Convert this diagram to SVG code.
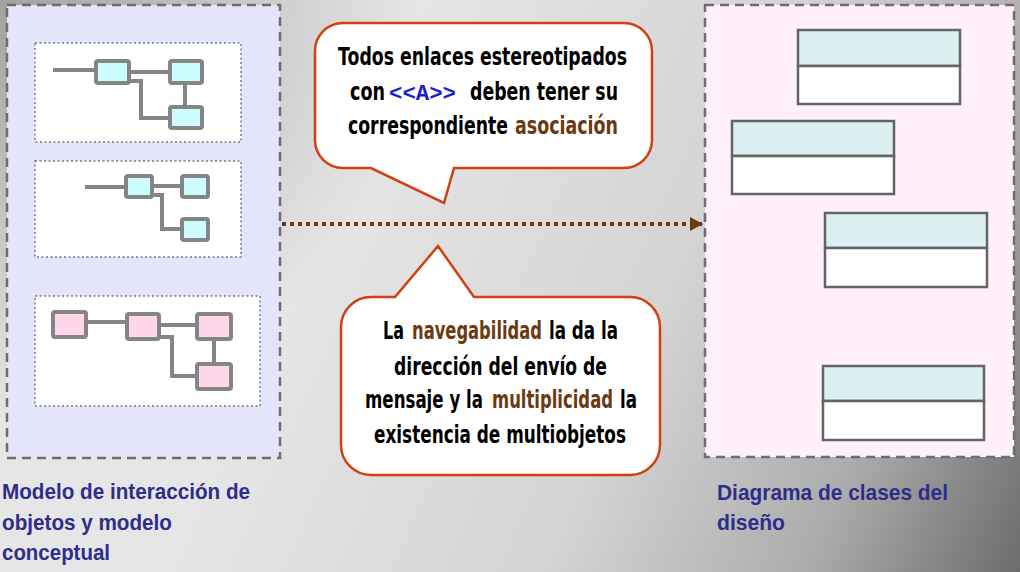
<svg xmlns="http://www.w3.org/2000/svg" width="1020" height="572" viewBox="0 0 1020 572">
<defs>
<linearGradient id="bg" gradientUnits="userSpaceOnUse" x1="300" y1="250" x2="1020" y2="572">
<stop offset="0" stop-color="#e6e6e6"/>
<stop offset="0.45" stop-color="#d4d4d4"/>
<stop offset="0.75" stop-color="#acacac"/>
<stop offset="1" stop-color="#6c6c6c"/>
</linearGradient>
<radialGradient id="tl" gradientUnits="userSpaceOnUse" cx="0" cy="0" r="420">
<stop offset="0" stop-color="#000" stop-opacity="0.3"/>
<stop offset="1" stop-color="#000" stop-opacity="0"/>
</radialGradient>
<marker id="ah" markerUnits="userSpaceOnUse" markerWidth="14" markerHeight="14" refX="13" refY="7" orient="auto">
<path d="M0,0 L13,7 L0,14 Z" fill="#6b3a10"/>
</marker>
<style>
.panel{stroke:#6e6e6e;stroke-width:2.5;stroke-dasharray:9,6}
.sub{fill:#fff;stroke:#7a7a7a;stroke-width:1.5;stroke-dasharray:2,2.5}
.ln{fill:none;stroke:#858585;stroke-width:4}
.ob{fill:#ccfeff;stroke:#858585;stroke-width:4}
.obp{fill:#ffd6ea;stroke:#858585;stroke-width:4}
.ct{fill:#dcf0f2;stroke:#646464;stroke-width:2.5}
.cb{fill:#fff;stroke:#646464;stroke-width:2.5}
.call{fill:#fff;stroke:#d04010;stroke-width:2.5}
.lbl{font-family:"Liberation Sans",sans-serif;font-weight:bold;font-size:22px;fill:#2e2e8a}
.ctx{font-family:"DejaVu Sans",sans-serif;font-weight:bold;font-size:24px;fill:#000}
.br{fill:#6b3a10}
.mono{font-family:"Liberation Mono",monospace;font-weight:bold;font-size:22px;fill:#1c1cd0}
</style>
</defs>
<rect width="1020" height="572" fill="url(#bg)"/>
<rect width="1020" height="572" fill="url(#tl)"/>

<g id="left-panel">
<rect x="7" y="5" width="273" height="453" fill="#e4e4fb" class="panel"/>
<g id="model1">
<rect x="35" y="43" width="206" height="99" class="sub"/>
<path class="ln" d="M53,70 H96 M129,72 H170 M185,83 V107 M129,81 H141 V118 H170"/>
<rect x="96" y="61" width="33" height="22" rx="2" class="ob"/>
<rect x="170" y="61" width="32" height="22" rx="2" class="ob"/>
<rect x="170" y="107" width="32" height="21" rx="2" class="ob"/>
</g>
<g id="model2">
<rect x="35" y="161" width="206" height="96" class="sub"/>
<path class="ln" d="M85,187 H126 M152,186 H182 M152,195 H162 V229 H182"/>
<rect x="126" y="176" width="26" height="21" rx="2" class="ob"/>
<rect x="182" y="176" width="26" height="21" rx="2" class="ob"/>
<rect x="182" y="219" width="26" height="21" rx="2" class="ob"/>
</g>
<g id="model3">
<rect x="35" y="296" width="225" height="110" class="sub"/>
<path class="ln" d="M86,322 H127 M159,325 H197 M214,339 V364 M159,337 H172 V376 H197"/>
<rect x="53" y="312" width="33" height="25" rx="2" class="obp"/>
<rect x="127" y="314" width="32" height="25" rx="2" class="obp"/>
<rect x="197" y="314" width="34" height="25" rx="2" class="obp"/>
<rect x="197" y="364" width="34" height="25" rx="2" class="obp"/>
</g>
</g>
<g id="left-label">
<text class="lbl" x="2" y="499" textLength="248" lengthAdjust="spacingAndGlyphs">Modelo de interacción de</text>
<text class="lbl" x="2" y="530" textLength="170" lengthAdjust="spacingAndGlyphs">objetos y modelo</text>
<text class="lbl" x="2" y="560" textLength="108" lengthAdjust="spacingAndGlyphs">conceptual</text>
</g>

<g id="right-panel">
<rect x="705" y="5" width="309" height="452" fill="#fff0fc" class="panel"/>
<g id="class1"><rect x="798" y="30" width="162" height="36" class="ct"/><rect x="798" y="66" width="162" height="38" class="cb"/></g>
<g id="class2"><rect x="732" y="121" width="162" height="35" class="ct"/><rect x="732" y="156" width="162" height="38" class="cb"/></g>
<g id="class3"><rect x="825" y="213" width="162" height="35" class="ct"/><rect x="825" y="248" width="162" height="39" class="cb"/></g>
<g id="class4"><rect x="823" y="366" width="161" height="35" class="ct"/><rect x="823" y="401" width="161" height="39" class="cb"/></g>
</g>
<g id="right-label">
<text class="lbl" x="717" y="500" textLength="231" lengthAdjust="spacingAndGlyphs">Diagrama de clases del</text>
<text class="lbl" x="717" y="530" textLength="68" lengthAdjust="spacingAndGlyphs">diseño</text>
</g>

<g id="connectors">
<line x1="282" y1="224" x2="703" y2="224" stroke="#6b3a10" stroke-width="4" stroke-dasharray="4,4" marker-end="url(#ah)"/>
</g>

<g id="callout1">
<path class="call" d="M343,23 H624 A28,28 0 0 1 652,51 V140 A28,28 0 0 1 624,168 H454 L444,203 L371,168 H343 A28,28 0 0 1 315,140 V51 A28,28 0 0 1 343,23 Z"/>
<text class="ctx" x="338" y="65" textLength="289" lengthAdjust="spacingAndGlyphs">Todos enlaces estereotipados</text>
<text class="ctx" x="350" y="100" textLength="35" lengthAdjust="spacingAndGlyphs">con</text>
<text class="mono" x="389" y="100" textLength="67" lengthAdjust="spacingAndGlyphs">&lt;&lt;A&gt;&gt;</text>
<text class="ctx" x="470" y="100" textLength="148" lengthAdjust="spacingAndGlyphs">deben tener su</text>
<text class="ctx" x="348" y="134" textLength="160" lengthAdjust="spacingAndGlyphs">correspondiente</text>
<text class="ctx br" x="515" y="134" textLength="103" lengthAdjust="spacingAndGlyphs">asociación</text>
</g>

<g id="callout2">
<path class="call" d="M371,297 H395 L438,246 L474,297 H630 A30,30 0 0 1 660,327 V445 A30,30 0 0 1 630,475 H371 A30,30 0 0 1 341,445 V327 A30,30 0 0 1 371,297 Z"/>
<text class="ctx" x="383" y="339" textLength="21" lengthAdjust="spacingAndGlyphs">La</text>
<text class="ctx br" x="412" y="339" textLength="130" lengthAdjust="spacingAndGlyphs">navegabilidad</text>
<text class="ctx" x="549" y="339" textLength="69" lengthAdjust="spacingAndGlyphs">la da la</text>
<text class="ctx" x="394" y="375" textLength="213" lengthAdjust="spacingAndGlyphs">dirección del envío de</text>
<text class="ctx" x="365" y="408" textLength="118" lengthAdjust="spacingAndGlyphs">mensaje y la</text>
<text class="ctx br" x="492" y="408" textLength="121" lengthAdjust="spacingAndGlyphs">multiplicidad</text>
<text class="ctx" x="620" y="408" textLength="17" lengthAdjust="spacingAndGlyphs">la</text>
<text class="ctx" x="374" y="443" textLength="252" lengthAdjust="spacingAndGlyphs">existencia de multiobjetos</text>
</g>
</svg>
